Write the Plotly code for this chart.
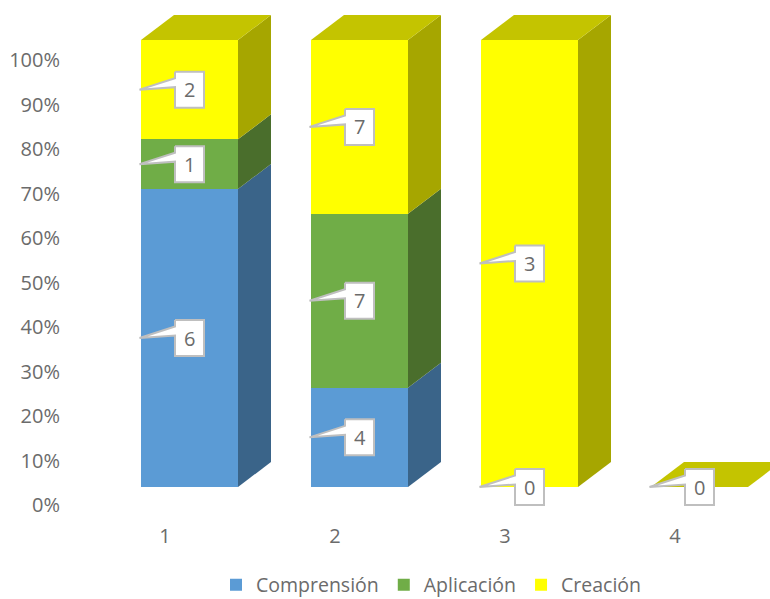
import plotly.graph_objects as go

# Stacked counts per group
groups = [1, 2, 3, 4]
series_names = ["Comprensión", "Aplicación", "Creación"]
comprension = [6, 4, 0, 0]
aplicacion = [1, 7, 0, 0]
creacion = [2, 7, 3, 0]
percent_ticks = [0, 10, 20, 30, 40, 50, 60, 70, 80, 90, 100]

series_values = [comprension, aplicacion, creacion]
front_colors = ["#5B9BD5", "#70AD47", "#FFFF00"]
side_colors = ["#3A6489", "#4A6E2C", "#A6A600"]
top_color = "#C4C400"
text_color = "#6B6B6B"
border_color = "#BFBFBF"
font_family = "Open Sans"
font_size = 20
legend_font_size = 19.5

# Canvas and plot-area geometry, in pixels
W, H = 770, 599
LEFT, BOTTOM = 61, 522
X_STEP = 170.0            # pixels between neighbouring groups
LABEL_X1, LABEL_Y0, LABEL_Y_SCALE = 165.0, 505.0, 4.45   # axis with the tick labels
FRONT_X1, FRONT_Y0, FRONT_Y_SCALE = 189.5, 487.0, 4.47   # axis of the front faces
BAR_PX = 97.0
DEPTH_X, DEPTH_Y = 33.0, 25.0

dx = DEPTH_X / X_STEP
dy = DEPTH_Y / FRONT_Y_SCALE
half = BAR_PX / X_STEP / 2

# Callout outline around its centre, in pixels (right, up)
CALLOUT_PX = [(-14.5, 18), (14.5, 18), (14.5, -18), (-14.5, -18),
              (-14.5, 2.5), (-50, 0), (-14.5, 11.5), (-14.5, 18)]


def percents(i):
    total = sum(s[i] for s in series_values)
    return [100.0 * s[i] / total if total else 0.0 for s in series_values]


fig = go.Figure()

# Tick labels live on their own axes, set lower and to the left of the columns
fig.add_trace(go.Scatter(x=groups, y=[0, 0, 0, 0], mode="markers", opacity=0,
                         showlegend=False, hoverinfo="skip"))

# Front faces
for name, values, color in zip(series_names, series_values, front_colors):
    fig.add_trace(go.Bar(x=groups, y=values, name=name, marker_color=color,
                         marker_line_width=0, width=BAR_PX / X_STEP,
                         xaxis="x2", yaxis="y2"))


def face(xs, ys, color):
    fig.add_trace(go.Scatter(x=xs, y=ys, mode="lines", fill="toself", fillcolor=color,
                             line=dict(width=0, color=color), showlegend=False,
                             hoverinfo="skip", xaxis="x2", yaxis="y2"))


# Side and top faces of every column
for i, g in enumerate(groups):
    base = 0.0
    right = g + half
    left = g - half
    for pct, color in zip(percents(i), side_colors):
        if pct > 0:
            top = base + pct
            face([right, right + dx, right + dx, right, right],
                 [base, base + dy, top + dy, top, base], color)
            base = top
    face([left, right, right + dx, left + dx, left],
         [base, base, base + dy, base + dy, base], top_color)

# Value callouts: one outline for box and wedge, with the number on top
annotations = []
for i, g in enumerate(groups):
    base = 0.0
    total = sum(s[i] for s in series_values)
    for values, pct in zip(series_values, percents(i)):
        show = values[i] > 0 or (values is creacion and total == 0) \
            or (g == 3 and values is comprension)
        mid = base + pct / 2
        base += pct
        if not show:
            continue
        fig.add_trace(go.Scatter(
            x=[g + px / X_STEP for px, _ in CALLOUT_PX],
            y=[mid + py / FRONT_Y_SCALE for _, py in CALLOUT_PX],
            mode="lines", fill="toself", fillcolor="white",
            line=dict(width=2, color=border_color), showlegend=False,
            hoverinfo="skip", xaxis="x2", yaxis="y2"))
        annotations.append(dict(x=g, y=mid, xref="x2", yref="y2", text=str(values[i]),
                                showarrow=False,
                                font=dict(family=font_family, size=font_size, color=text_color)))

fig.update_layout(
    width=W, height=H, autosize=False,
    margin=dict(l=LEFT, r=0, t=0, b=H - BOTTOM, pad=0),
    paper_bgcolor="white", plot_bgcolor="rgba(0,0,0,0)",
    barmode="stack", barnorm="percent",
    font=dict(family=font_family, size=font_size, color=text_color),
    annotations=annotations,
    showlegend=True,
    legend=dict(orientation="h", xref="container", yref="container",
                x=216 / W, xanchor="left", y=14 / H, yanchor="middle",
                traceorder="normal", itemwidth=30,
                font=dict(family=font_family, size=legend_font_size, color=text_color),
                bgcolor="rgba(0,0,0,0)"),
    xaxis=dict(range=[1 + (LEFT - LABEL_X1) / X_STEP, 1 + (W - LABEL_X1) / X_STEP],
               tickmode="array", tickvals=groups, ticktext=[str(g) for g in groups],
               showgrid=False, zeroline=False, showline=False, ticks="", ticklen=0),
    yaxis=dict(range=[-(BOTTOM - LABEL_Y0) / LABEL_Y_SCALE, 100 + 60 / LABEL_Y_SCALE],
               tickmode="array", tickvals=percent_ticks,
               ticktext=[f"{t}%" for t in percent_ticks],
               showgrid=False, zeroline=False, showline=False, ticks=""),
    xaxis2=dict(range=[1 + (LEFT - FRONT_X1) / X_STEP, 1 + (W - FRONT_X1) / X_STEP],
                overlaying="x", visible=False),
    yaxis2=dict(range=[-(BOTTOM - FRONT_Y0) / FRONT_Y_SCALE, 100 + 40 / FRONT_Y_SCALE],
                overlaying="y", visible=False),
)

fig.write_html("out.html")
